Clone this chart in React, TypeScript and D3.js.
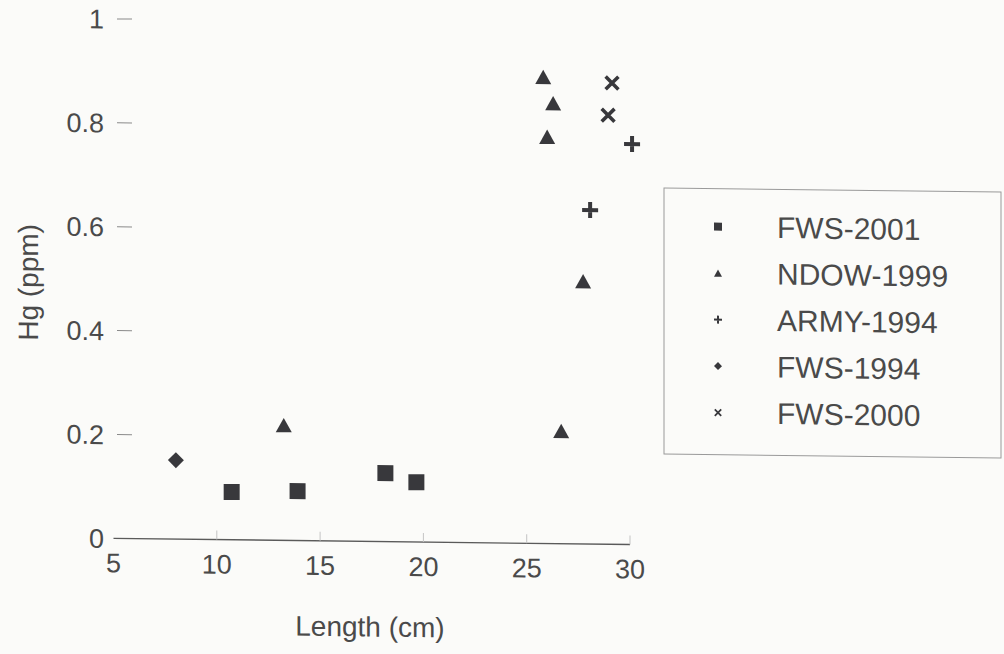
import * as d3 from "d3";

// Hg vs. length, one pair of arrays per survey
const fws2001Len = [10.72, 13.91, 18.16, 19.66];
const fws2001Hg = [0.092, 0.095, 0.132, 0.115];

const ndow1999Len = [13.24, 25.8, 26.28, 25.99, 27.73, 26.67];
const ndow1999Hg = [0.222, 0.898, 0.848, 0.783, 0.506, 0.217];

const army1994Len = [30.1, 28.07];
const army1994Hg = [0.771, 0.643];

const fws1994Len = [8.02];
const fws1994Hg = [0.152];

const fws2000Len = [29.13, 28.94];
const fws2000Hg = [0.888, 0.826];

const xTicks = [5, 10, 15, 20, 25, 30];
const yTicks = [0, 0.2, 0.4, 0.6, 0.8, 1];
const yTickLabels = ["0", "0.2", "0.4", "0.6", "0.8", "1"];

type Shape = "square" | "triangle" | "plus" | "diamond" | "cross";

const series: { name: string; shape: Shape; xs: number[]; ys: number[] }[] = [
  { name: "FWS-2001", shape: "square", xs: fws2001Len, ys: fws2001Hg },
  { name: "NDOW-1999", shape: "triangle", xs: ndow1999Len, ys: ndow1999Hg },
  { name: "ARMY-1994", shape: "plus", xs: army1994Len, ys: army1994Hg },
  { name: "FWS-1994", shape: "diamond", xs: fws1994Len, ys: fws1994Hg },
  { name: "FWS-2000", shape: "cross", xs: fws2000Len, ys: fws2000Hg },
];

const W = 1004;
const H = 654;
const INK = "#38383c";
const TEXT = "#4a4a4a";
const FONT = "'Liberation Sans', Arial, sans-serif";

function Marker({ shape, x, y, s }: { shape: Shape; x: number; y: number; s: number }) {
  const h = s / 2;
  switch (shape) {
    case "square":
      return <rect x={x - h} y={y - h} width={s} height={s} fill={INK} />;
    case "triangle":
      return (
        <path
          d={`M${x},${y - h * 0.9}L${x + h},${y + h * 0.9}L${x - h},${y + h * 0.9}Z`}
          fill={INK}
        />
      );
    case "diamond":
      return (
        <path d={`M${x},${y - h}L${x + h},${y}L${x},${y + h}L${x - h},${y}Z`} fill={INK} />
      );
    case "plus":
      return (
        <path
          d={`M${x - h},${y}H${x + h}M${x},${y - h}V${y + h}`}
          stroke={INK}
          strokeWidth={s / 4}
        />
      );
    case "cross": {
      const c = h * 0.8;
      return (
        <path
          d={`M${x - c},${y - c}L${x + c},${y + c}M${x + c},${y - c}L${x - c},${y + c}`}
          stroke={INK}
          strokeWidth={s / 4.5}
        />
      );
    }
  }
}

export default function App() {
  const x = d3.scaleLinear().domain([5, 30]).range([113.5, 630]);
  const y = d3.scaleLinear().domain([0, 1]).range([537, 17.5]);

  // legend box
  const lg = { x: 664, y: 180, w: 337, h: 266 };
  const rowY0 = 218;
  const rowStep = 46.5;

  return (
    <svg
      width={W}
      height={H}
      style={{ position: "absolute", left: 0, top: 0, background: "#fbfbf9" }}
      fontFamily={FONT}
    >
      {/* scan is slightly skewed */}
      <g transform="matrix(1,0.012,0,1,0,0)">
        {/* y ticks */}
        {yTicks.map((t, i) => (
          <g key={t}>
            {t > 0 && (
              <line x1={117} x2={132} y1={y(t)} y2={y(t)} stroke="#8a8a8a" strokeWidth={1} />
            )}
            <text
              x={104}
              y={y(t)}
              dy="0.36em"
              textAnchor="end"
              fontSize={27}
              fill={TEXT}
            >
              {yTickLabels[i]}
            </text>
          </g>
        ))}

        {/* x axis */}
        <line x1={x(5)} x2={x(30)} y1={y(0)} y2={y(0)} stroke="#5a5a5a" strokeWidth={1.4} />
        {xTicks.map((t) => (
          <g key={t}>
            {t > 5 && (
              <line
                x1={x(t)}
                x2={x(t)}
                y1={y(0) - 9}
                y2={y(0)}
                stroke="#c4c4c4"
                strokeWidth={1}
              />
            )}
            <text x={x(t)} y={571} textAnchor="middle" fontSize={27} fill={TEXT}>
              {t}
            </text>
          </g>
        ))}

        {/* axis titles */}
        <text x={370} y={632} textAnchor="middle" fontSize={28} fill={TEXT}>
          Length (cm)
        </text>
        <text
          transform="translate(28,282) rotate(-90)"
          dy="0.36em"
          textAnchor="middle"
          fontSize={28}
          fill={TEXT}
        >
          Hg (ppm)
        </text>

        {/* points */}
        {series.map((s) =>
          s.xs.map((v, i) => (
            <Marker key={s.name + i} shape={s.shape} x={x(v)} y={y(s.ys[i])} s={16} />
          ))
        )}

        {/* legend */}
        <rect
          x={lg.x}
          y={lg.y}
          width={lg.w}
          height={lg.h}
          fill="none"
          stroke="#9a9a9a"
          strokeWidth={1}
        />
        {series.map((s, i) => (
          <g key={s.name}>
            <Marker shape={s.shape} x={718} y={rowY0 + i * rowStep} s={8} />
            <text
              x={777}
              y={rowY0 + i * rowStep}
              dy="0.36em"
              fontSize={30}
              fill={TEXT}
            >
              {s.name}
            </text>
          </g>
        ))}
      </g>
    </svg>
  );
}
